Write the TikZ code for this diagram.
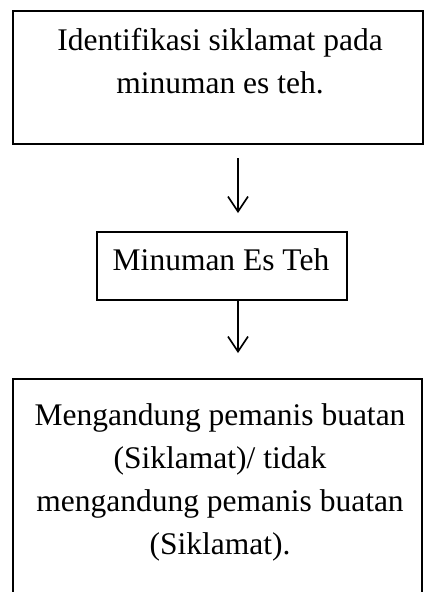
\documentclass[tikz,border=0pt]{standalone}
\usepackage{fontspec}
\setmainfont{Liberation Serif}
\usetikzlibrary{arrows.meta}
\begin{document}
\begin{tikzpicture}[x=1pt,y=-1pt,
  boxstyle/.style={draw, line width=1.7pt, inner sep=0pt, anchor=north west},
  txt/.style={font=\fontsize{31.5}{43}\selectfont, anchor=base, inner sep=0pt},
  arr/.style={line width=1.6pt, -{Straight Barb[length=15pt,width=20pt,line width=1.6pt]}}]
\useasboundingbox (0,0) rectangle (424,592);
\clip (0,0) rectangle (424,592);
\node[boxstyle, minimum width=410pt, minimum height=133pt] (b1) at (12,10) {};
\node[txt] (t1a) at (220,50) {Identifikasi siklamat pada};
\node[txt] (t1b) at (220,93) {minuman es teh.};
\node[boxstyle, minimum width=250pt, minimum height=68pt] (b2) at (96,231) {};
\node[txt] (t2) at (221,270) {Minuman Es Teh};
\node[boxstyle, minimum width=409pt, minimum height=240pt] (b3) at (12,378) {};
\node[txt] (t3a) at (220,425) {Mengandung pemanis buatan};
\node[txt] (t3b) at (220,468) {(Siklamat)/ tidak};
\node[txt] (t3c) at (220,511) {mengandung pemanis buatan};
\node[txt] (t3d) at (220,554) {(Siklamat).};
\coordinate (a1s) at (238,158);
\coordinate (a1e) at (238,213);
\coordinate (a2e) at (238,353);
\draw[arr] (a1s) -- (a1e);
\draw[arr] (b2.south -| a2e) -- (a2e);
\end{tikzpicture}
\end{document}
